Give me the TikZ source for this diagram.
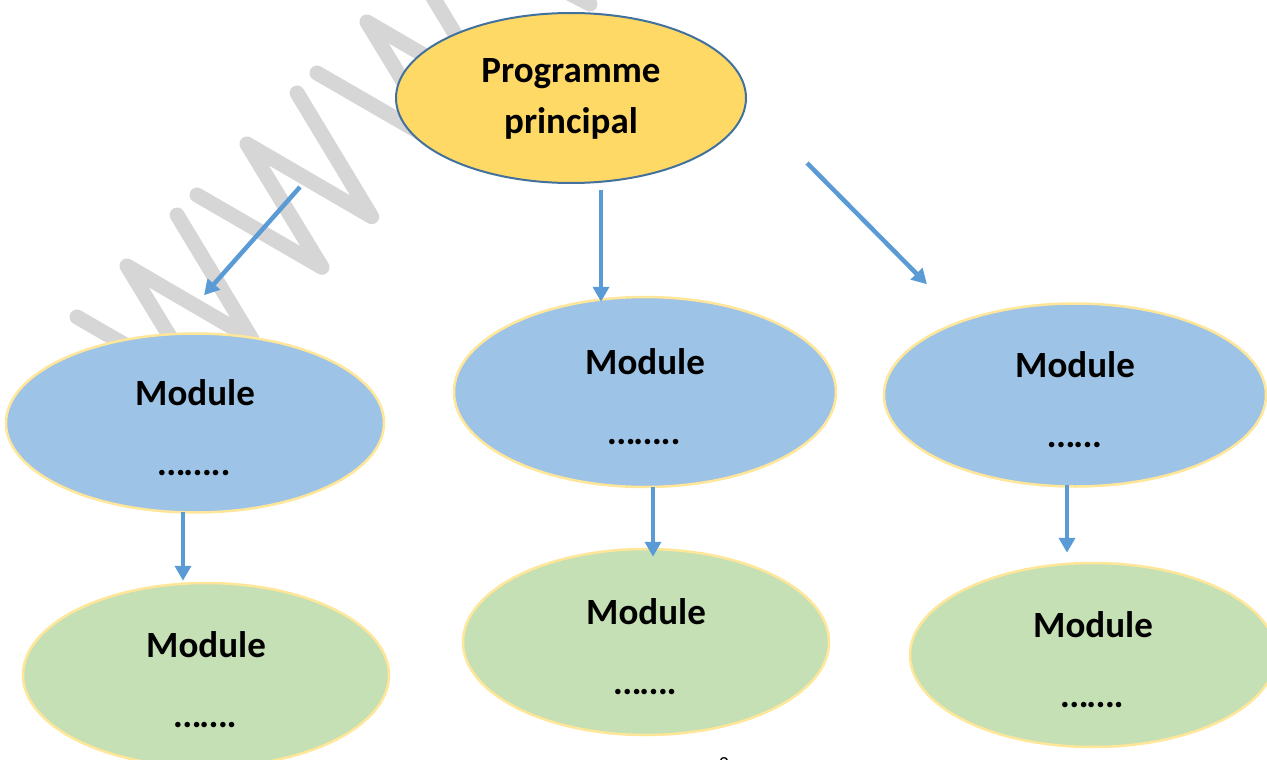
\documentclass[tikz,border=0pt]{standalone}
\usepackage{fontspec}
\setmainfont{Carlito}
\usetikzlibrary{shapes.geometric,arrows.meta,calc}
\definecolor{ybox}{HTML}{FFD966}
\definecolor{yline}{HTML}{41719C}
\definecolor{bfill}{HTML}{9DC3E6}
\definecolor{gfill}{HTML}{C5E0B4}
\definecolor{pale}{HTML}{FFE699}
\definecolor{arrcol}{HTML}{5B9BD5}
\definecolor{wmark}{HTML}{D7D6D7}
\newcommand{\modtext}[1]{\begin{tabular}[t]{@{}c@{}}Module\\[26pt]\textit{#1}\end{tabular}}
\begin{document}
\begin{tikzpicture}[x=1pt,y=-1pt,
  wm/.style={draw=wmark,line width=15pt,line cap=round,line join=round},
  oval/.style={ellipse,inner sep=0pt,font=\fontsize{37}{44}\selectfont\bfseries,text height=0pt,text depth=35pt},
  mainoval/.style={oval,fill=ybox,draw=yline,line width=2pt,minimum width=350pt,minimum height=170pt,text depth=30pt},
  blueoval/.style={oval,fill=bfill,draw=pale,line width=2.5pt},
  greenoval/.style={oval,fill=gfill,draw=pale,line width=2.5pt},
  link/.style={draw=arrcol,line width=4.5pt,-{Triangle[width=16pt,length=15pt]}}]
\useasboundingbox (0,0) rectangle (1267,760);
% watermark
\draw[wm] (77,317) -- ++(125,72.3) -- ++(-75,-123.3) -- ++(124.7,72.7) -- ++(-74.6,-123.7);
\draw[wm] (197,195) -- ++(125,72.3) -- ++(-75,-123.3) -- ++(124.7,72.7) -- ++(-74.6,-123.7);
\draw[wm] (317,73) -- ++(125,72.3) -- ++(-75,-123.3) -- ++(124.7,72.7) -- ++(-74.6,-123.7);
\draw[wm] (555,-14) -- (590,4);
% nodes
\node[mainoval] (prog) at (571,98) {\begin{tabular}[t]{@{}c@{}}Programme\\[7pt]principal\end{tabular}};
\node[blueoval,minimum width=378pt,minimum height=179pt] (b1) at (195,423) {\modtext{……..}};
\node[blueoval,minimum width=382pt,minimum height=190pt] (b2) at (645,392) {\modtext{……..}};
\node[blueoval,minimum width=382pt,minimum height=183pt] (b3) at (1075,395) {\modtext{……}};
\node[greenoval,minimum width=366pt,minimum height=184pt] (g1) at (206,675) {\modtext{…….}};
\node[greenoval,minimum width=366pt,minimum height=186pt] (g2) at (646,642) {\modtext{…….}};
\node[greenoval,minimum width=366pt,minimum height=184pt] (g3) at (1093,655) {\modtext{…….}};
\node[inner sep=0pt,anchor=north,font=\fontsize{20}{24}\selectfont] (pg) at (724,757) {2};
% arrow ends
\coordinate (s1) at ($(prog.center)+(-271,89)$);
\coordinate (e1) at ($(b1.north)+(9,-37)$);
\coordinate (s2) at ($(prog.south)+(30,6)$);
\coordinate (e2) at ($(b2.north)+(-44,6)$);
\coordinate (s3) at ($(prog.center)+(236,65)$);
\coordinate (e3) at ($(b3.north)+(-148,-18)$);
\coordinate (s4) at ($(b1.south)+(-12,-2)$);
\coordinate (e4) at ($(g1.north)+(-23,-1)$);
\coordinate (s5) at ($(b2.south)+(8,-1)$);
\coordinate (e5) at ($(g2.north)+(7,9)$);
\coordinate (s6) at ($(b3.south)+(-8,-3)$);
\coordinate (e6) at ($(g3.north)+(-26,-9)$);
\draw[link] (s1) -- (e1);
\draw[link] (s2) -- (e2);
\draw[link] (s3) -- (e3);
\draw[link] (s4) -- (e4);
\draw[link] (s5) -- (e5);
\draw[link] (s6) -- (e6);
\end{tikzpicture}
\end{document}
